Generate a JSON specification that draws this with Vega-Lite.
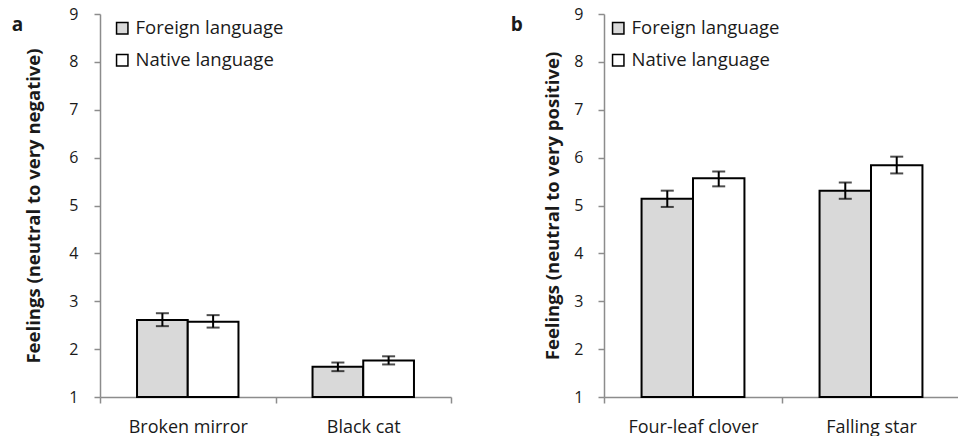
{
  "$schema": "https://vega.github.io/schema/vega-lite/v6.json",
  "padding": {"left": 11, "top": 6, "right": 0, "bottom": 0},
  "background": "white",
  "config": {
    "font": "Open Sans",
    "view": {"stroke": null},
    "axis": {
      "domainColor": "#8c8c8c",
      "domainWidth": 1.5,
      "tickColor": "#8c8c8c",
      "tickWidth": 1.5,
      "tickSize": 6,
      "grid": false,
      "labelColor": "#1a1a1a",
      "labelFont": "Open Sans",
      "labelFontSize": 16,
      "titleColor": "#1a1a1a",
      "titleFont": "Open Sans",
      "titleFontSize": 18.5,
      "titleFontWeight": "bold"
    },
    "legend": {
      "labelFont": "Open Sans",
      "labelFontSize": 18.5,
      "labelColor": "#1a1a1a",
      "symbolType": "square",
      "symbolSize": 130,
      "symbolStrokeColor": "black",
      "symbolStrokeWidth": 1.5,
      "labelOffset": 4,
      "rowPadding": 13,
      "title": null
    },
    "title": {"font": "Open Sans", "fontSize": 19, "fontWeight": "bold", "color": "#1a1a1a", "anchor": "start", "frame": "bounds"}
  },
  "datasets": {
    "a": [
      {"item": "Broken mirror", "language": "Foreign language", "mean": 2.61, "lo": 2.48, "hi": 2.75},
      {"item": "Broken mirror", "language": "Native language", "mean": 2.57, "lo": 2.45, "hi": 2.71},
      {"item": "Black cat", "language": "Foreign language", "mean": 1.63, "lo": 1.54, "hi": 1.72},
      {"item": "Black cat", "language": "Native language", "mean": 1.76, "lo": 1.68, "hi": 1.85}
    ],
    "b": [
      {"item": "Four-leaf clover", "language": "Foreign language", "mean": 5.14, "lo": 4.97, "hi": 5.31},
      {"item": "Four-leaf clover", "language": "Native language", "mean": 5.57, "lo": 5.40, "hi": 5.71},
      {"item": "Falling star", "language": "Foreign language", "mean": 5.31, "lo": 5.14, "hi": 5.48},
      {"item": "Falling star", "language": "Native language", "mean": 5.84, "lo": 5.67, "hi": 6.02}
    ]
  },
  "spacing": 58,
  "resolve": {
    "scale": {"x": "independent", "y": "independent", "xOffset": "independent"},
    "legend": {"fill": "independent"}
  },
  "hconcat": [
    {
      "width": 351,
      "height": 383,
      "title": {"text": "a", "offset": -18, "dx": -13, "dy": 11},
      "data": {"name": "a"},
      "encoding": {
        "x": {
          "field": "item", "type": "nominal", "sort": ["Broken mirror", "Black cat"],
          "scale": {"paddingInner": 0, "paddingOuter": 0},
          "axis": {"title": null, "labelAngle": 0, "tickBand": "extent", "labelPadding": 15, "labelFontSize": 18}
        },
        "xOffset": {
          "field": "language", "type": "nominal", "sort": ["Foreign language", "Native language"],
          "scale": {"paddingInner": 0, "paddingOuter": 0.73}
        }
      },
      "layer": [
        {
          "mark": {"type": "bar", "stroke": "black", "strokeWidth": 2},
          "encoding": {
            "y": {
              "field": "mean", "type": "quantitative",
              "scale": {"domain": [1, 9], "zero": false, "nice": false},
              "axis": {"values": [1, 2, 3, 4, 5, 6, 7, 8, 9], "title": "Feelings (neutral to very negative)", "labelPadding": 16, "titlePadding": 25}
            },
            "y2": {"datum": 1},
            "fill": {
              "field": "language", "type": "nominal",
              "scale": {"domain": ["Foreign language", "Native language"], "range": ["#d9d9d9", "#ffffff"]},
              "legend": {"orient": "none", "legendX": 13, "legendY": 5}
            }
          }
        },
        {
          "mark": {"type": "rule", "color": "black", "strokeWidth": 2},
          "encoding": {"y": {"field": "lo", "type": "quantitative"}, "y2": {"field": "hi"}}
        },
        {
          "mark": {"type": "tick", "color": "black", "thickness": 2, "size": 13, "orient": "horizontal"},
          "encoding": {"y": {"field": "lo", "type": "quantitative"}}
        },
        {
          "mark": {"type": "tick", "color": "black", "thickness": 2, "size": 13, "orient": "horizontal"},
          "encoding": {"y": {"field": "hi", "type": "quantitative"}}
        }
      ]
    },
    {
      "width": 356,
      "height": 383,
      "title": {"text": "b", "offset": -18, "dx": -33, "dy": 11},
      "data": {"name": "b"},
      "encoding": {
        "x": {
          "field": "item", "type": "nominal", "sort": ["Four-leaf clover", "Falling star"],
          "scale": {"paddingInner": 0, "paddingOuter": 0},
          "axis": {"title": null, "labelAngle": 0, "tickBand": "extent", "labelPadding": 15, "labelFontSize": 18}
        },
        "xOffset": {
          "field": "language", "type": "nominal", "sort": ["Foreign language", "Native language"],
          "scale": {"paddingInner": 0, "paddingOuter": 0.73}
        }
      },
      "layer": [
        {
          "mark": {"type": "bar", "stroke": "black", "strokeWidth": 2},
          "encoding": {
            "y": {
              "field": "mean", "type": "quantitative",
              "scale": {"domain": [1, 9], "zero": false, "nice": false},
              "axis": {"values": [1, 2, 3, 4, 5, 6, 7, 8, 9], "title": "Feelings (neutral to very positive)", "labelPadding": 15, "titlePadding": 11}
            },
            "y2": {"datum": 1},
            "fill": {
              "field": "language", "type": "nominal",
              "scale": {"domain": ["Foreign language", "Native language"], "range": ["#d9d9d9", "#ffffff"]},
              "legend": {"orient": "none", "legendX": 5, "legendY": 5}
            }
          }
        },
        {
          "mark": {"type": "rule", "color": "black", "strokeWidth": 2},
          "encoding": {"y": {"field": "lo", "type": "quantitative"}, "y2": {"field": "hi"}}
        },
        {
          "mark": {"type": "tick", "color": "black", "thickness": 2, "size": 13, "orient": "horizontal"},
          "encoding": {"y": {"field": "lo", "type": "quantitative"}}
        },
        {
          "mark": {"type": "tick", "color": "black", "thickness": 2, "size": 13, "orient": "horizontal"},
          "encoding": {"y": {"field": "hi", "type": "quantitative"}}
        }
      ]
    }
  ]
}
